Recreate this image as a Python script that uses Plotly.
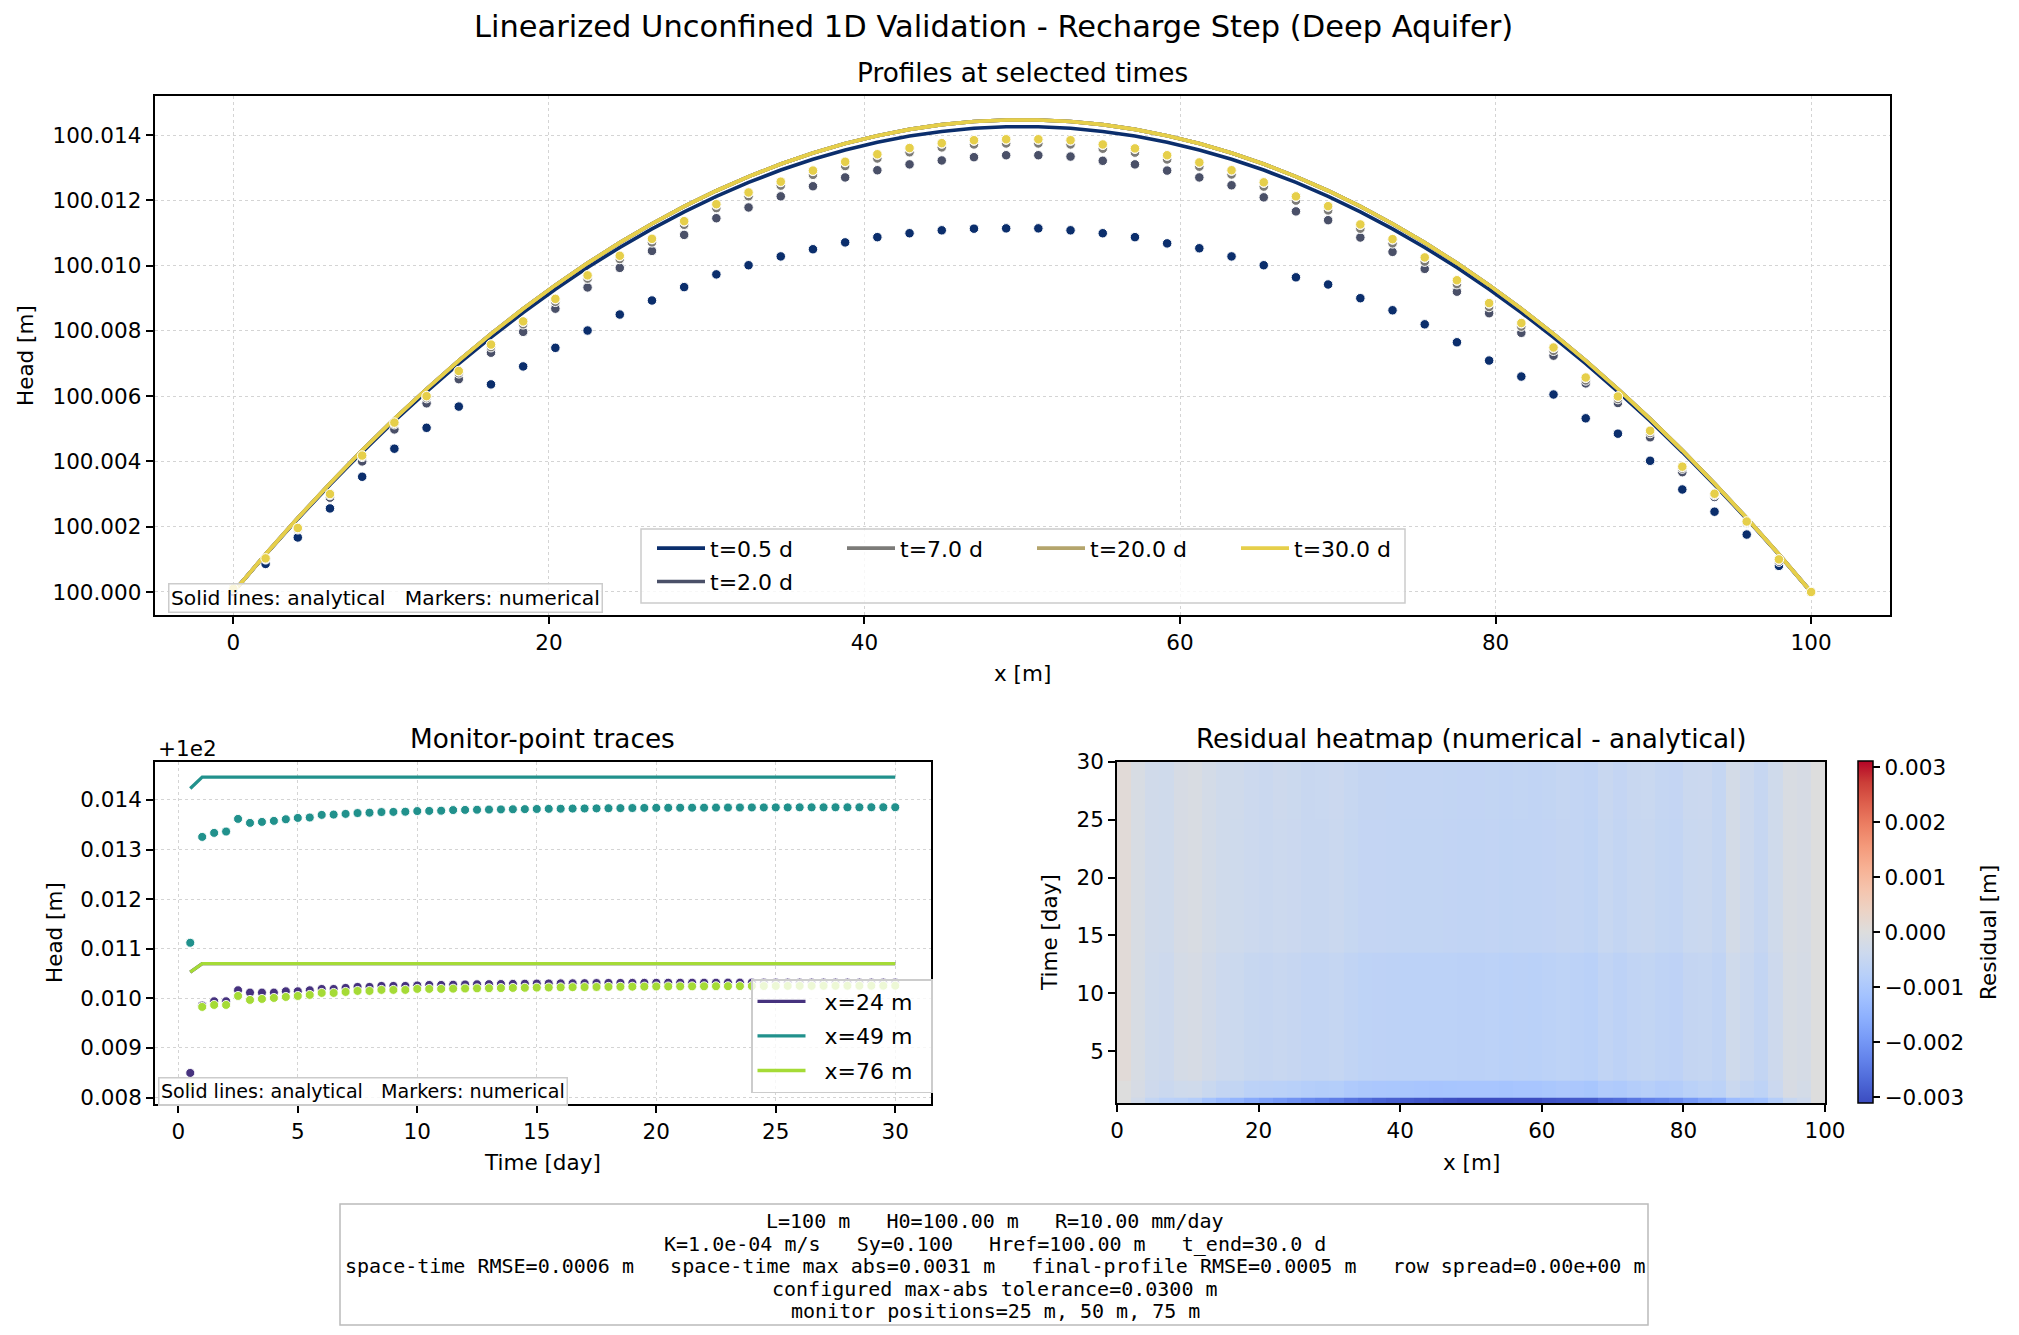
import plotly.graph_objects as go

W, H = 2019, 1335
H0 = 100.0

# ---------------- data: profiles (head rise above H0, m) ----------------
x_nodes = [0.0, 2.041, 4.082, 6.122, 8.163, 10.204, 12.245, 14.286, 16.327, 18.367,
           20.408, 22.449, 24.49, 26.531, 28.571, 30.612, 32.653, 34.694, 36.735, 38.776,
           40.816, 42.857, 44.898, 46.939, 48.98, 51.02, 53.061, 55.102, 57.143, 59.184,
           61.224, 63.265, 65.306, 67.347, 69.388, 71.429, 73.469, 75.51, 77.551, 79.592,
           81.633, 83.673, 85.714, 87.755, 89.796, 91.837, 93.878, 95.918, 97.959, 100.0]

profile_labels = ["t=0.5 d", "t=2.0 d", "t=7.0 d", "t=20.0 d", "t=30.0 d"]
profile_colors = ["#0b2e6c", "#4a5068", "#7c7b78", "#b4a56c", "#e6cf4a"]

analytic_t05 = [0.0, 0.001144, 0.002239, 0.003286, 0.004286, 0.005237, 0.00614, 0.006995, 0.007803, 0.008562,
                0.009274, 0.009939, 0.010556, 0.011125, 0.011647, 0.012121, 0.012547, 0.012926, 0.013258, 0.013542,
                0.013779, 0.013968, 0.01411, 0.014205, 0.014252, 0.014252, 0.014205, 0.01411, 0.013968, 0.013779,
                0.013542, 0.013258, 0.012926, 0.012547, 0.012121, 0.011647, 0.011125, 0.010556, 0.009939, 0.009274,
                0.008562, 0.007803, 0.006995, 0.00614, 0.005237, 0.004286, 0.003286, 0.002239, 0.001144, 0.0]
analytic_late = [0.0, 0.001157, 0.002266, 0.003326, 0.004339, 0.005303, 0.006219, 0.007086, 0.007906, 0.008677,
                 0.0094, 0.010075, 0.010702, 0.01128, 0.011811, 0.012293, 0.012726, 0.013112, 0.01345, 0.013739,
                 0.01398, 0.014173, 0.014317, 0.014414, 0.014462, 0.014462, 0.014414, 0.014317, 0.014173, 0.01398,
                 0.013739, 0.01345, 0.013112, 0.012726, 0.012293, 0.011811, 0.01128, 0.010702, 0.010075, 0.0094,
                 0.008677, 0.007906, 0.007086, 0.006219, 0.005303, 0.004339, 0.003326, 0.002266, 0.001157, 0.0]

numeric_t05 = [0.0, 0.00086, 0.00167, 0.00256, 0.00353, 0.00439, 0.00503, 0.00568, 0.00636, 0.00691,
               0.00748, 0.00801, 0.0085, 0.00893, 0.00934, 0.00973, 0.01001, 0.01028, 0.0105, 0.01071,
               0.01087, 0.01099, 0.01108, 0.01113, 0.01114, 0.01114, 0.01108, 0.01099, 0.01087, 0.01068,
               0.01053, 0.01028, 0.01001, 0.00964, 0.00942, 0.009, 0.00863, 0.0082, 0.00765, 0.00709,
               0.0066, 0.00605, 0.00532, 0.00485, 0.00402, 0.00314, 0.00246, 0.00176, 0.0008, 0.0]
numeric_t2 = [0.0, 0.001, 0.00192, 0.00289, 0.004, 0.00498, 0.00578, 0.00652, 0.00733, 0.00797,
              0.00868, 0.00933, 0.00993, 0.01045, 0.01094, 0.01145, 0.01178, 0.01212, 0.01243, 0.0127,
              0.01292, 0.0131, 0.01322, 0.01332, 0.01338, 0.01338, 0.01334, 0.01321, 0.0131, 0.01291,
              0.0127, 0.01246, 0.01209, 0.01166, 0.01139, 0.01086, 0.01042, 0.0099, 0.0092, 0.00854,
              0.00794, 0.00724, 0.00639, 0.00579, 0.00474, 0.00367, 0.00291, 0.00212, 0.00093, 0.0]
numeric_t7 = [0.0001, 0.00102, 0.00194, 0.00297, 0.00414, 0.00514, 0.00594, 0.0067, 0.0075, 0.0082,
              0.00889, 0.0096, 0.0102, 0.01071, 0.01125, 0.01176, 0.01212, 0.01245, 0.01278, 0.01305,
              0.01328, 0.01347, 0.01362, 0.01371, 0.01374, 0.01374, 0.01371, 0.01358, 0.01346, 0.01325,
              0.01303, 0.01279, 0.01242, 0.01199, 0.01169, 0.01113, 0.01068, 0.01012, 0.00943, 0.00873,
              0.00813, 0.00739, 0.00648, 0.00591, 0.00487, 0.00378, 0.00297, 0.00213, 0.00098, 0.0]
numeric_t20 = [0.0001, 0.00103, 0.00196, 0.003, 0.00417, 0.00518, 0.00599, 0.00676, 0.00757, 0.00828,
               0.00897, 0.00969, 0.01029, 0.01081, 0.01135, 0.01187, 0.01223, 0.01256, 0.0129, 0.01317,
               0.0134, 0.01359, 0.01374, 0.01383, 0.01386, 0.01386, 0.01383, 0.0137, 0.01358, 0.01337,
               0.01315, 0.01291, 0.01254, 0.01211, 0.01181, 0.01125, 0.0108, 0.01024, 0.00954, 0.00884,
               0.00823, 0.00748, 0.00656, 0.00598, 0.00493, 0.00383, 0.003, 0.00215, 0.001, 0.0]
numeric_t30 = [0.0001, 0.00103, 0.00196, 0.003, 0.00418, 0.00519, 0.006, 0.00677, 0.00758, 0.00829,
               0.00898, 0.0097, 0.0103, 0.01082, 0.01136, 0.01188, 0.01224, 0.01257, 0.01291, 0.01318,
               0.01341, 0.0136, 0.01375, 0.01384, 0.01387, 0.01387, 0.01384, 0.01371, 0.01359, 0.01338,
               0.01316, 0.01292, 0.01255, 0.01212, 0.01182, 0.01126, 0.01081, 0.01025, 0.00955, 0.00885,
               0.00824, 0.00749, 0.00657, 0.00599, 0.00494, 0.00384, 0.00301, 0.00216, 0.001, 0.0]

# ---------------- data: monitor traces (head rise above H0, m) ----------------
times = [0.5, 1.0, 1.5, 2.0, 2.5, 3.0, 3.5, 4.0, 4.5, 5.0, 5.5, 6.0, 6.5, 7.0, 7.5, 8.0, 8.5, 9.0, 9.5, 10.0,
         10.5, 11.0, 11.5, 12.0, 12.5, 13.0, 13.5, 14.0, 14.5, 15.0, 15.5, 16.0, 16.5, 17.0, 17.5, 18.0, 18.5, 19.0,
         19.5, 20.0, 20.5, 21.0, 21.5, 22.0, 22.5, 23.0, 23.5, 24.0, 24.5, 25.0, 25.5, 26.0, 26.5, 27.0, 27.5, 28.0,
         28.5, 29.0, 29.5, 30.0]
monitor_labels = ["x=24 m", "x=49 m", "x=76 m"]
monitor_colors = ["#46327e", "#21918c", "#a5db36"]

analytic_x24 = [0.01053, 0.0107, 0.0107, 0.0107, 0.0107, 0.0107, 0.0107, 0.0107, 0.0107, 0.0107,
                0.0107, 0.0107, 0.0107, 0.0107, 0.0107, 0.0107, 0.0107, 0.0107, 0.0107, 0.0107,
                0.0107, 0.0107, 0.0107, 0.0107, 0.0107, 0.0107, 0.0107, 0.0107, 0.0107, 0.0107,
                0.0107, 0.0107, 0.0107, 0.0107, 0.0107, 0.0107, 0.0107, 0.0107, 0.0107, 0.0107,
                0.0107, 0.0107, 0.0107, 0.0107, 0.0107, 0.0107, 0.0107, 0.0107, 0.0107, 0.0107,
                0.0107, 0.0107, 0.0107, 0.0107, 0.0107, 0.0107, 0.0107, 0.0107, 0.0107, 0.0107]
analytic_x49 = [0.01423, 0.01446, 0.01446, 0.01446, 0.01446, 0.01446, 0.01446, 0.01446, 0.01446, 0.01446,
                0.01446, 0.01446, 0.01446, 0.01446, 0.01446, 0.01446, 0.01446, 0.01446, 0.01446, 0.01446,
                0.01446, 0.01446, 0.01446, 0.01446, 0.01446, 0.01446, 0.01446, 0.01446, 0.01446, 0.01446,
                0.01446, 0.01446, 0.01446, 0.01446, 0.01446, 0.01446, 0.01446, 0.01446, 0.01446, 0.01446,
                0.01446, 0.01446, 0.01446, 0.01446, 0.01446, 0.01446, 0.01446, 0.01446, 0.01446, 0.01446,
                0.01446, 0.01446, 0.01446, 0.01446, 0.01446, 0.01446, 0.01446, 0.01446, 0.01446, 0.01446]
analytic_x76 = [0.01053, 0.0107, 0.0107, 0.0107, 0.0107, 0.0107, 0.0107, 0.0107, 0.0107, 0.0107,
                0.0107, 0.0107, 0.0107, 0.0107, 0.0107, 0.0107, 0.0107, 0.0107, 0.0107, 0.0107,
                0.0107, 0.0107, 0.0107, 0.0107, 0.0107, 0.0107, 0.0107, 0.0107, 0.0107, 0.0107,
                0.0107, 0.0107, 0.0107, 0.0107, 0.0107, 0.0107, 0.0107, 0.0107, 0.0107, 0.0107,
                0.0107, 0.0107, 0.0107, 0.0107, 0.0107, 0.0107, 0.0107, 0.0107, 0.0107, 0.0107,
                0.0107, 0.0107, 0.0107, 0.0107, 0.0107, 0.0107, 0.0107, 0.0107, 0.0107, 0.0107]
numeric_x24 = [0.008496, 0.009855, 0.009941, 0.009941, 0.010163, 0.010116, 0.010116, 0.010116, 0.010142, 0.010142,
               0.010163, 0.010189, 0.010189, 0.01021, 0.01023, 0.01023, 0.01025, 0.01025, 0.01025, 0.01026,
               0.01027, 0.01027, 0.010275, 0.01028, 0.010283, 0.010286, 0.010289, 0.010292, 0.010295, 0.010298,
               0.0103, 0.010302, 0.010304, 0.010306, 0.010308, 0.01031, 0.010311, 0.010312, 0.010313, 0.010314,
               0.010315, 0.010315, 0.010316, 0.010316, 0.010316, 0.010317, 0.010317, 0.010317, 0.010317, 0.010317,
               0.010317, 0.010317, 0.010317, 0.010317, 0.010317, 0.010317, 0.010317, 0.010317, 0.010317, 0.010317]
numeric_x49 = [0.01112, 0.013254, 0.013335, 0.013362, 0.013617, 0.013536, 0.013556, 0.013577, 0.01361, 0.013637,
               0.013645, 0.013698, 0.013704, 0.013718, 0.013735, 0.013742, 0.013755, 0.013758, 0.013762, 0.013775,
               0.013778, 0.013782, 0.013795, 0.013798, 0.013802, 0.013805, 0.013808, 0.013811, 0.013814, 0.013817,
               0.01382, 0.013822, 0.013825, 0.013827, 0.013829, 0.013832, 0.013834, 0.013836, 0.013838, 0.01384,
               0.013841, 0.013842, 0.013843, 0.013844, 0.013845, 0.013846, 0.013847, 0.013848, 0.013848, 0.013849,
               0.013849, 0.01385, 0.01385, 0.01385, 0.013851, 0.013851, 0.013851, 0.013852, 0.013852, 0.013852]
numeric_x76 = [0.00822, 0.009827, 0.009867, 0.009867, 0.010048, 0.009968, 0.009988, 0.010008, 0.010028, 0.010048,
               0.010069, 0.010109, 0.010109, 0.010129, 0.010149, 0.010149, 0.01017, 0.01017, 0.01017, 0.01019,
               0.01019, 0.01019, 0.010195, 0.010198, 0.010201, 0.010204, 0.010207, 0.01021, 0.010213, 0.010216,
               0.010219, 0.010222, 0.010225, 0.010227, 0.010229, 0.010231, 0.010233, 0.010235, 0.010237, 0.010239,
               0.01024, 0.010241, 0.010242, 0.010243, 0.010244, 0.010245, 0.010246, 0.010247, 0.010248, 0.010249,
               0.01025, 0.010251, 0.010251, 0.010252, 0.010252, 0.010253, 0.010253, 0.010254, 0.010254, 0.010255]

# ---------------- heatmap cell edges (time rows from the profile snapshots) ----------------
heat_col_edges = [0, 2, 4, 6, 8, 10, 12, 14, 16, 18, 20, 22, 24, 26, 28, 30, 32, 34, 36, 38, 40, 42, 44, 46, 48, 50,
                  52, 54, 56, 58, 60, 62, 64, 66, 68, 70, 72, 74, 76, 78, 80, 82, 84, 86, 88, 90, 92, 94, 96, 98, 100]
heat_row_edges = [0.5, 0.9917, 2.4667, 13.5, 25.0, 30.0]

stats_lines = [
    "L=100 m   H0=100.00 m   R=10.00 mm/day",
    "K=1.0e-04 m/s   Sy=0.100   Href=100.00 m   t_end=30.0 d",
    "space-time RMSE=0.0006 m   space-time max abs=0.0031 m   final-profile RMSE=0.0005 m   row spread=0.00e+00 m",
    "configured max-abs tolerance=0.0300 m",
    "monitor positions=25 m, 50 m, 75 m",
]

# ---------------- helpers ----------------
def px(xp):
    return xp / W


def py(yp):
    return 1 - yp / H


FONT = "DejaVu Sans"
TICK = 21.5
GRID = "#d4d4d4"
NB = "\u00a0"


def sp(s):
    return s.replace(" ", NB)


fig = go.Figure()

# ---------------- top: profiles ----------------
analytic_sets = [analytic_t05, analytic_late, analytic_late, analytic_late, analytic_late]
numeric_sets = [numeric_t05, numeric_t2, numeric_t7, numeric_t20, numeric_t30]
legend_ids = ["legend", "legend5", "legend2", "legend3", "legend4"]
for k in range(5):
    fig.add_trace(go.Scatter(
        x=x_nodes, y=[H0 + v for v in analytic_sets[k]], mode="lines",
        line=dict(color=profile_colors[k], width=3.6), name=profile_labels[k],
        legend=legend_ids[k], xaxis="x", yaxis="y"))
    fig.add_trace(go.Scatter(
        x=x_nodes, y=[H0 + v for v in numeric_sets[k]], mode="markers",
        marker=dict(size=9.5, color=profile_colors[k], line=dict(color="white", width=1.0)),
        showlegend=False, xaxis="x", yaxis="y"))

# ---------------- bottom-left: monitor traces ----------------
mon_ana = [analytic_x24, analytic_x49, analytic_x76]
mon_num = [numeric_x24, numeric_x49, numeric_x76]
for k in range(3):
    fig.add_trace(go.Scatter(
        x=times, y=[H0 + v for v in mon_ana[k]], mode="lines",
        line=dict(color=monitor_colors[k], width=3.3), name=NB + NB + monitor_labels[k] + NB + NB,
        legend="legend6", legendgroup=monitor_labels[k], xaxis="x2", yaxis="y2"))
    fig.add_trace(go.Scatter(
        x=times, y=[H0 + v for v in mon_num[k]], mode="markers",
        marker=dict(size=9, color=monitor_colors[k], line=dict(color="white", width=0.9)),
        showlegend=False, legendgroup=monitor_labels[k], xaxis="x2", yaxis="y2"))

# ---------------- bottom-right: residual heatmap ----------------
residual_rows = []
for num, ana in [(numeric_t05, analytic_t05), (numeric_t2, analytic_late), (numeric_t7, analytic_late),
                 (numeric_t20, analytic_late), (numeric_t30, analytic_late)]:
    residual_rows.append([n - a for n, a in zip(num, ana)])

coolwarm = [
    [0.0, "rgb(59,76,192)"], [0.0625, "rgb(77,104,215)"], [0.125, "rgb(98,130,234)"],
    [0.1875, "rgb(119,154,247)"], [0.25, "rgb(141,176,254)"], [0.3125, "rgb(163,194,255)"],
    [0.375, "rgb(184,208,249)"], [0.4375, "rgb(204,217,238)"], [0.5, "rgb(221,221,221)"],
    [0.5625, "rgb(236,211,197)"], [0.625, "rgb(245,196,173)"], [0.6875, "rgb(247,177,148)"],
    [0.75, "rgb(244,154,123)"], [0.8125, "rgb(236,127,99)"], [0.875, "rgb(222,96,77)"],
    [0.9375, "rgb(203,62,56)"], [1.0, "rgb(180,4,38)"],
]
fig.add_trace(go.Heatmap(
    x=heat_col_edges, y=heat_row_edges, z=residual_rows, colorscale=coolwarm,
    zmin=-0.00311, zmax=0.00311, xaxis="x3", yaxis="y3", zsmooth=False,
    colorbar=dict(
        x=px(1857.5), xanchor="left", xpad=0, y=py(1103.3), yanchor="bottom",
        len=(1103.3 - 761.7) / H, lenmode="fraction", ypad=0, thickness=15,
        outlinewidth=1.5, outlinecolor="black",
        tickvals=[-0.003, -0.002, -0.001, 0.0, 0.001, 0.002, 0.003], tickformat=".3f",
        ticks="outside", ticklen=7, tickwidth=1.5, tickcolor="black",
        tickfont=dict(family=FONT, size=TICK, color="black"))))

# ---------------- axes ----------------
base_axis = dict(showline=True, linecolor="black", linewidth=1.6, mirror=True, ticks="outside",
                 ticklen=7, tickwidth=1.6, tickcolor="black", zeroline=False,
                 tickfont=dict(family=FONT, size=TICK, color="black"))
grid_on = dict(showgrid=True, gridcolor=GRID, gridwidth=1.2, griddash="dot")

fig.update_layout(
    xaxis=dict(base_axis, **grid_on, domain=[px(154.5), px(1890)], range=[-5, 105],
               tick0=0, dtick=20, anchor="y"),
    yaxis=dict(base_axis, **grid_on, domain=[py(615), py(96)], range=[99.999295, 100.015195],
               tick0=100, dtick=0.002, tickformat=".3f", anchor="x"),
    xaxis2=dict(base_axis, **grid_on, domain=[px(155), px(930.5)], range=[-0.975, 31.475],
                tick0=0, dtick=5, anchor="y2"),
    yaxis2=dict(base_axis, **grid_on, domain=[py(1104), py(761.7)], range=[100.00787, 100.01477],
                tickvals=[100.008, 100.009, 100.010, 100.011, 100.012, 100.013, 100.014],
                ticktext=["0.008", "0.009", "0.010", "0.011", "0.012", "0.013", "0.014"], anchor="x2"),
    xaxis3=dict(base_axis, showgrid=False, domain=[px(1117), px(1825)], range=[0, 100],
                tick0=0, dtick=20, anchor="y3"),
    yaxis3=dict(base_axis, showgrid=False, domain=[py(1103.3), py(761.7)], range=[0.5, 30],
                tickvals=[5, 10, 15, 20, 25, 30], anchor="x3"),
)

# ---------------- legends ----------------
LEGF = 22
leg_common = dict(bgcolor="rgba(0,0,0,0)", borderwidth=0, orientation="h", xanchor="left",
                  yanchor="middle", itemwidth=48, font=dict(family=FONT, size=LEGF, color="black"))
row1, row2 = py(548.3), py(581.7)
fig.update_layout(
    legend=dict(leg_common, x=px(652), y=row1),
    legend2=dict(leg_common, x=px(842), y=row1),
    legend3=dict(leg_common, x=px(1032), y=row1),
    legend4=dict(leg_common, x=px(1236), y=row1),
    legend5=dict(leg_common, x=px(652), y=row2),
    legend6=dict(bgcolor="rgba(255,255,255,0.8)", bordercolor="#cccccc", borderwidth=1.5,
                 orientation="v", x=px(751), xanchor="left", y=py(1093), yanchor="bottom",
                 itemwidth=48, tracegroupgap=3, font=dict(family=FONT, size=LEGF, color="black")),
)

shapes = [
    dict(type="rect", xref="paper", yref="paper", x0=px(641), x1=px(1405), y0=py(603), y1=py(529),
         line=dict(color="#cccccc", width=1.5), fillcolor="rgba(255,255,255,0.8)", layer="above"),
    dict(type="rect", xref="paper", yref="paper", x0=px(340), x1=px(1648), y0=py(1325), y1=py(1204),
         line=dict(color="#bbbbbb", width=1.5), fillcolor="white", layer="above"),
]

ann = []


def label(text, x, y, size, angle=0, xanchor="center", yanchor="middle", family=FONT, **kw):
    ann.append(dict(text=text, x=px(x), y=py(y), xref="paper", yref="paper", showarrow=False,
                    xanchor=xanchor, yanchor=yanchor, textangle=angle,
                    font=dict(family=family, size=size, color="black"), **kw))


label("Linearized Unconfined 1D Validation - Recharge Step (Deep Aquifer)", 993, 26, 30.5)
label("Profiles at selected times", 1022, 73, 26.3)
label("Monitor-point traces", 542, 739, 26.3)
label("Residual heatmap (numerical - analytical)", 1471, 739, 26.3)
label("x [m]", 1022, 673, TICK)
label("Head [m]", 26, 356, TICK, angle=-90)
label("Time [day]", 542, 1162, TICK)
label("Head [m]", 54, 933, TICK, angle=-90)
label("x [m]", 1471, 1162, TICK)
label("Time [day]", 1049, 933, TICK, angle=-90)
label("Residual [m]", 1988, 933, TICK, angle=-90)
label("+1e2", 156, 748, TICK, xanchor="left")

box_style = dict(bgcolor="rgba(255,255,255,0.8)", bordercolor="#cccccc", borderwidth=1.5, borderpad=1.5)
label(sp("Solid lines: analytical   Markers: numerical"), 167.5, 613, 20.3,
      xanchor="left", yanchor="bottom", **box_style)
label(sp("Solid lines: analytical   Markers: numerical"), 158, 1106, 19.1,
      xanchor="left", yanchor="bottom", **box_style)

for line_text, yc in zip(stats_lines, [1221, 1243.5, 1266, 1288.5, 1311]):
    label(sp(line_text), 995, yc, 20, family="DejaVu Sans Mono")

fig.update_layout(
    width=W, height=H, autosize=False, template="none",
    margin=dict(l=0, r=0, t=0, b=0, pad=0),
    paper_bgcolor="white", plot_bgcolor="white",
    font=dict(family=FONT, size=TICK, color="black"),
    shapes=shapes, annotations=ann,
)

fig.write_html("out.html")
